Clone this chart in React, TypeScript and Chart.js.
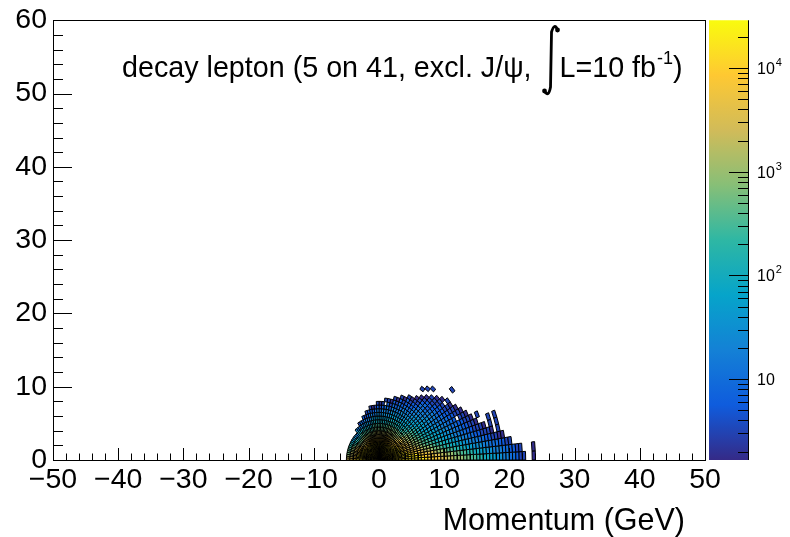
import React, { useEffect, useRef } from "react";
import { Chart, registerables } from "chart.js";

Chart.register(...registerables);

// ---- data ----
const xTickValues = [-50, -40, -30, -20, -10, 0, 10, 20, 30, 40, 50];
const yTickValues = [0, 10, 20, 30, 40, 50, 60];
const zMajorValues = [10, 100, 1000, 10000];
const zMajorExponents = ["", "2", "3", "4"];
const zRange = [1.66, 29000];
const angleBinDeg = 3; // 60 angular bins over 0..180 deg
const radialBinGeV = 0.5;
// each char is a bin content: code index k -> 10^(k/4); "." = empty bin
const levelCodes = "0123456789ABCDEFGHI";
const cellRows = [
  "HHHHHHHHHHHHHHHGGFFEEDDCCCBBAA998877665544322..1",
  "HHHHHHHHHHHHHGGFFEEDDCCBBAA99887766555443322...1",
  "HHHHHHHHHHHHGFFEEDCCBAA998877666554443322",
  "HHHHHHHHHHGFFEDDCBBA9988776655544332211",
  "HHHHHHHHHGFFEDCCBA998877665544332221.2",
  "HHHHHHHHGFEEDCBAA98877665544332221.2.2",
  "HHHHHHHGFEEDCBAA9887766554433221...2.2",
  "HHHHHHHGFEDCCBA9887766554433221.2",
  "HHHHHHHGFEDCBA988776655443.221",
  "HHHHHHHGFEDCBA987766554433221",
  "HHHHHHGFEDCBA987766554433221",
  "HHHHHHGFEDCBA98776655433221",
  "HHHHHHGFEDCBA987766554332.2",
  "HHHHHHGFEDBA98776655433221...2",
  "HHHHHGFEDBA98776655433221",
  "HHHHHGFEDBA9877665544322",
  "HHHHHGFDCB9877665544321..2",
  "HHHHHGFDCB987765543221..2",
  "HHHHHGFDCB98766543321..2",
  "HHHHHGFDCB9876554321",
  "HHHHHGFDCB9876654332",
  "HHHHHGFDCB987654321",
  "HHHHHGFDCB987654432",
  "HHHHHGFDCB98765321",
  "HHHHHGFDCB98765432",
  "HHHHHGEDBA8765321",
  "HHHHHGEDBA8765432",
  "HHHHHGEDBA87654.2",
  "HHHHHGEDBA876532",
  "HHHHHGEDBA875421",
  "HHHHHGEDBA876532",
  "HHHHHGEDBA87542",
  "HHHHHGEDBA86431",
  "HHHHHGEDBA87532",
  "HHHHHGECA86543",
  "HHHHHGECA86532",
  "HHHHHGECA8642",
  "HHHHHGECA8653",
  "HHHHHGECA853",
  "HHHHHGECA864",
  "HHHHHGECA852",
  "HHHHHGECA85",
  "HHHHHGECA84",
  "HHHHHGECA86",
  "HHHHHGDB85",
  "HHHHHGDB85",
  "HHHHHGDB96",
  "HHHHHGDB96",
  "HHHHHGEB96",
  "HHHHHGEC97",
  "HHHHHHGDA8",
  "HHHHHHGEB9",
  "HHHHHHGEC9",
  "HHHHHHGECA",
  "HHHHHHGECA",
  "HHHHHHGEDB",
  "HHHHHHHFDB",
  "HHHHHHHFDC",
  "HHHHHHHGED",
  "HHHHHHHGFE",
];
const titleMain = "decay lepton (5 on 41, excl. J/\u03c8, ";
const titleLumi = "L=10 fb";
const titleSup = "-1";
const xTitle = "Momentum (GeV)";

// ---- style ----
const FONT = "'Liberation Sans', Arial, Helvetica, sans-serif";
const birdStops = [0, 0.125, 0.25, 0.375, 0.5, 0.625, 0.75, 0.875, 1];
const birdR = [0.2082, 0.0592, 0.078, 0.0232, 0.1802, 0.5301, 0.8186, 0.9956, 0.9764];
const birdG = [0.1664, 0.3599, 0.5041, 0.6419, 0.7178, 0.7492, 0.7328, 0.7862, 0.9832];
const birdB = [0.5293, 0.8684, 0.8385, 0.7914, 0.6425, 0.4662, 0.3499, 0.1968, 0.0539];

function bird(t: number): string {
  const f = Math.max(0, Math.min(1, t));
  let i = 0;
  while (i < birdStops.length - 2 && f > birdStops[i + 1]) i++;
  const u = (f - birdStops[i]) / (birdStops[i + 1] - birdStops[i]);
  const c = (a: number[]) => Math.round(255 * (a[i] + (a[i + 1] - a[i]) * u));
  return `rgb(${c(birdR)},${c(birdG)},${c(birdB)})`;
}

function fmt(v: number): string {
  return v < 0 ? "\u2212" + Math.abs(v) : String(v);
}

const polarPlugin = {
  id: "polarHist",
  beforeDatasetsDraw(chart: any) {
    const { ctx, chartArea, scales } = chart;
    const xs = scales.x;
    const ys = scales.y;
    const lmin = Math.log10(zRange[0]);
    const lmax = Math.log10(zRange[1]);
    ctx.save();
    ctx.beginPath();
    ctx.rect(chartArea.left, chartArea.top, chartArea.right - chartArea.left, chartArea.bottom - chartArea.top);
    ctx.clip();
    ctx.lineWidth = 1;
    ctx.strokeStyle = "#000";
    ctx.lineJoin = "miter";
    cellRows.forEach((row, i) => {
      const t0 = (i * angleBinDeg * Math.PI) / 180;
      const t1 = ((i + 1) * angleBinDeg * Math.PI) / 180;
      for (let j = 0; j < row.length; j++) {
        const ch = row[j];
        if (ch === ".") continue;
        const k = levelCodes.indexOf(ch);
        const v = Math.pow(10, k / 4);
        const frac = (Math.log10(v) - lmin) / (lmax - lmin);
        const r0 = j * radialBinGeV;
        const r1 = r0 + radialBinGeV;
        const pts = [
          [r0, t0],
          [r1, t0],
          [r1, t1],
          [r0, t1],
        ];
        ctx.beginPath();
        pts.forEach(([r, t], idx) => {
          const px = xs.getPixelForValue(r * Math.cos(t));
          const py = ys.getPixelForValue(r * Math.sin(t));
          if (idx === 0) ctx.moveTo(px, py);
          else ctx.lineTo(px, py);
        });
        ctx.closePath();
        ctx.fillStyle = bird(frac);
        ctx.fill();
        ctx.stroke();
      }
    });
    ctx.restore();
  },
  afterDraw(chart: any) {
    const { ctx, chartArea, scales } = chart;
    const xs = scales.x;
    const ys = scales.y;
    const zs = scales.z;
    const { left, right, top, bottom } = chartArea;
    ctx.save();
    // frame
    ctx.strokeStyle = "#000";
    ctx.lineWidth = 1;
    ctx.strokeRect(Math.round(left) + 0.5, Math.round(top) + 0.5, Math.round(right - left), Math.round(bottom - top));
    // axis ticks
    ctx.beginPath();
    for (let v = -50; v <= 50; v += 2) {
      const px = Math.round(xs.getPixelForValue(v)) + 0.5;
      const len = v % 10 === 0 ? 12 : 6.5;
      ctx.moveTo(px, bottom);
      ctx.lineTo(px, bottom - len);
    }
    for (let v = 0; v <= 60; v += 2) {
      const py = Math.round(ys.getPixelForValue(v)) + 0.5;
      const len = v % 10 === 0 ? 19 : 10;
      ctx.moveTo(left, py);
      ctx.lineTo(left + len, py);
    }
    ctx.stroke();

    // colour bar
    const cbL = 709;
    const cbR = 748;
    const zTop = top;
    const zBot = bottom;
    const lmin = Math.log10(zRange[0]);
    const lmax = Math.log10(zRange[1]);
    const zPix = (v: number) => {
      if (zs && zs.bottom - zs.top > 10) return zs.getPixelForValue(v);
      return zBot - ((Math.log10(v) - lmin) / (lmax - lmin)) * (zBot - zTop);
    };
    const grad = ctx.createLinearGradient(0, zBot, 0, zTop);
    for (let s = 0; s <= 40; s++) grad.addColorStop(s / 40, bird(s / 40));
    ctx.fillStyle = grad;
    ctx.fillRect(cbL, zTop, cbR - cbL, zBot - zTop);
    ctx.beginPath();
    ctx.moveTo(cbR + 0.5, zTop);
    ctx.lineTo(cbR + 0.5, zBot);
    for (let d = 0; d <= 4; d++) {
      for (let m = 1; m <= 9; m++) {
        const v = m * Math.pow(10, d);
        if (v < zRange[0] || v > zRange[1]) continue;
        const py = Math.round(zPix(v)) + 0.5;
        const len = m === 1 ? 19 : 10;
        ctx.moveTo(cbR, py);
        ctx.lineTo(cbR - len, py);
      }
    }
    ctx.strokeStyle = "#000";
    ctx.stroke();
    ctx.fillStyle = "#000";
    zMajorValues.forEach((v, idx) => {
      const py = zPix(v);
      ctx.font = `16px ${FONT}`;
      ctx.textAlign = "left";
      ctx.textBaseline = "alphabetic";
      ctx.fillText("10", 757, py + 6);
      const w = ctx.measureText("10").width;
      if (zMajorExponents[idx]) {
        ctx.font = `11px ${FONT}`;
        ctx.fillText(zMajorExponents[idx], 757 + w + 1, py - 2);
      }
    });

    // title
    ctx.fillStyle = "#000";
    ctx.strokeStyle = "#000";
    ctx.textAlign = "left";
    ctx.textBaseline = "alphabetic";
    ctx.font = `28.7px ${FONT}`;
    const tx = 122;
    const tb = 77;
    ctx.fillText(titleMain, tx, tb);
    const w1 = ctx.measureText(titleMain).width;
    const ix = tx + w1 + 8;
    // integral sign
    ctx.lineWidth = 2.8;
    ctx.lineCap = "round";
    ctx.beginPath();
    ctx.moveTo(ix + 10, 30);
    ctx.quadraticCurveTo(ix + 7, 22, ix + 4, 32);
    ctx.lineTo(ix + 3, 87);
    ctx.quadraticCurveTo(ix + 1, 98, ix - 3, 91);
    ctx.stroke();
    ctx.beginPath();
    ctx.arc(ix + 10, 30, 2.4, 0, Math.PI * 2);
    ctx.arc(ix - 3, 91, 2.4, 0, Math.PI * 2);
    ctx.fill();
    const lx = ix + 12;
    ctx.font = `28.7px ${FONT}`;
    ctx.fillText(titleLumi, lx, tb);
    const w2 = ctx.measureText(titleLumi).width;
    ctx.font = `18px ${FONT}`;
    ctx.fillText(titleSup, lx + w2 + 1, tb - 13);
    const w3 = ctx.measureText(titleSup).width;
    ctx.font = `28.7px ${FONT}`;
    ctx.fillText(")", lx + w2 + w3 + 1, tb);

    // x title
    ctx.font = `30.5px ${FONT}`;
    ctx.textAlign = "right";
    ctx.fillText(xTitle, 685, 530);
    ctx.restore();
  },
};

export default function App() {
  const ref = useRef<HTMLCanvasElement | null>(null);
  useEffect(() => {
    if (!ref.current) return;
    const tickFont = { family: FONT, size: 28.5, lineHeight: 1 };
    const chart = new Chart(ref.current, {
      type: "scatter",
      data: { datasets: [] },
      options: {
        animation: false,
        responsive: false,
        maintainAspectRatio: false,
        layout: { padding: { top: 16, right: 85, left: 0, bottom: 0 } },
        plugins: {
          legend: { display: false },
          tooltip: { enabled: false },
          title: { display: false },
        },
        scales: {
          x: {
            type: "linear",
            position: "bottom",
            min: -50,
            max: 50,
            afterFit: (s: any) => {
              s.height = 77;
            },
            afterBuildTicks: (s: any) => {
              s.ticks = xTickValues.map((v) => ({ value: v }));
            },
            grid: { display: false, drawTicks: false },
            border: { display: false },
            ticks: {
              font: tickFont,
              color: "#000",
              padding: 6,
              maxRotation: 0,
              autoSkip: false,
              callback: (v: any) => fmt(Number(v)),
            },
          },
          y: {
            type: "linear",
            position: "left",
            min: 0,
            max: 60,
            afterFit: (s: any) => {
              s.width = 53;
            },
            afterBuildTicks: (s: any) => {
              s.ticks = yTickValues.map((v) => ({ value: v }));
            },
            grid: { display: false, drawTicks: false },
            border: { display: false },
            ticks: {
              font: tickFont,
              color: "#000",
              padding: 6,
              autoSkip: false,
              callback: (v: any) => fmt(Number(v)),
            },
          },
          z: {
            type: "logarithmic",
            position: "right",
            display: false,
            min: zRange[0],
            max: zRange[1],
          },
        },
      },
      plugins: [polarPlugin],
    } as any);
    return () => chart.destroy();
  }, []);
  return (
    <div style={{ position: "fixed", left: 0, top: 0, width: 790, height: 537, background: "#fff" }}>
      <canvas ref={ref} width={790} height={537} style={{ display: "block", width: 790, height: 537 }} />
    </div>
  );
}
